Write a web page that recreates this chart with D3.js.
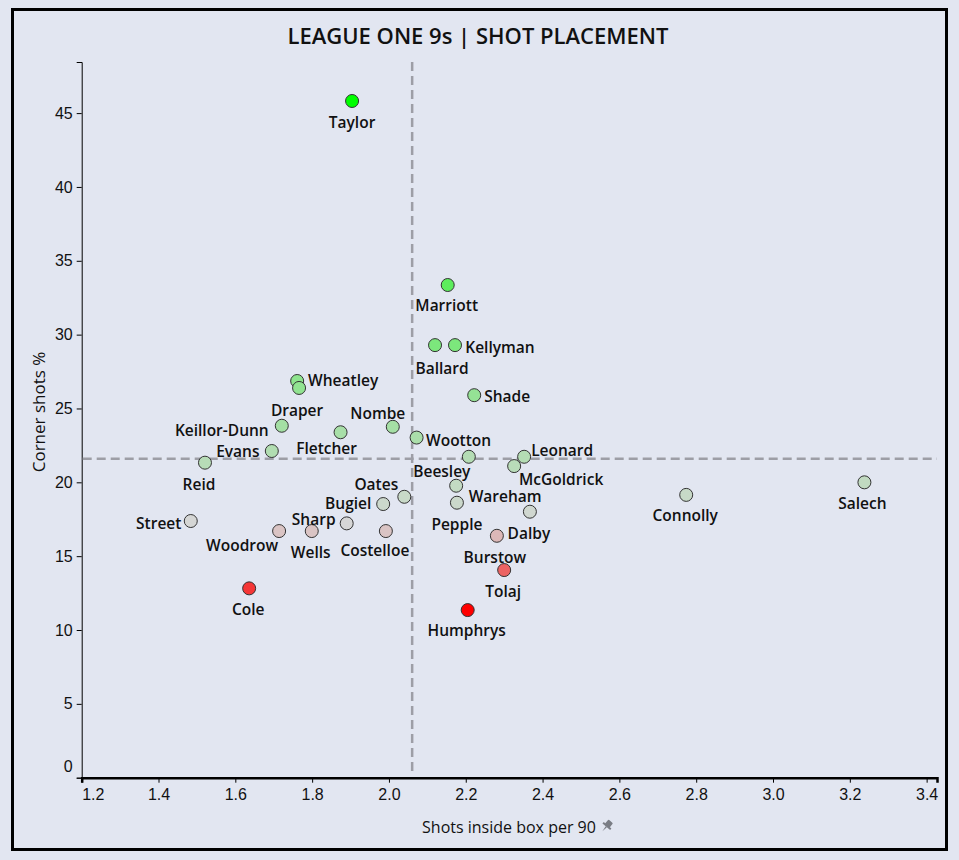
<!DOCTYPE html>
<html>
<head>
<meta charset="utf-8">
<style>
  body { margin: 0; background: #e2e6f1; }
  svg { display: block; font-family: "Open Sans", "Noto Sans", sans-serif; }
  .pt-label { font-size: 15.5px; font-weight: 600; fill: #111; text-anchor: middle; dominant-baseline: central; }
  .ref { stroke: #9d9ea6; stroke-width: 2.5; stroke-dasharray: 9,5; }
</style>
<script src="https://cdnjs.cloudflare.com/ajax/libs/d3/7.8.5/d3.min.js"></script>
</head>
<body>
<svg width="959" height="860"></svg>
<script>
// data
var players = ["Taylor", "Marriott", "Ballard", "Kellyman", "Shade", "Wheatley", "Draper",
  "Keillor-Dunn", "Evans", "Reid", "Fletcher", "Nombe", "Wootton", "Beesley", "Leonard",
  "McGoldrick", "Oates", "Bugiel", "Wareham", "Pepple", "Dalby", "Burstow", "Tolaj",
  "Humphrys", "Street", "Sharp", "Woodrow", "Wells", "Costelloe", "Cole", "Connolly", "Salech"];
var shotsInBox = [1.904, 2.153, 2.120, 2.172, 2.222, 1.761, 1.766,
  1.721, 1.695, 1.521, 1.874, 2.010, 2.072, 2.208, 2.352,
  2.326, 2.040, 1.985, 2.175, 2.177, 2.367, 2.281, 2.300,
  2.205, 1.484, 1.890, 1.714, 1.799, 1.992, 1.636, 2.774, 3.238];
var cornerPct = [45.82, 33.36, 29.29, 29.29, 25.90, 26.86, 26.39,
  23.83, 22.12, 21.33, 23.39, 23.76, 23.03, 21.73, 21.73,
  21.10, 19.02, 18.53, 19.77, 18.62, 18.01, 16.38, 14.06,
  11.35, 17.38, 17.22, 16.70, 16.70, 16.70, 12.82, 19.15, 20.00];
var xTicks = [1.2, 1.4, 1.6, 1.8, 2.0, 2.2, 2.4, 2.6, 2.8, 3.0, 3.2, 3.4];
var yTicks = [0, 5, 10, 15, 20, 25, 30, 35, 40, 45];

// where each name sits relative to its dot (px)
var labelOffsets = {
  "Taylor": [0, 21], "Marriott": [-1, 20], "Ballard": [7, 23], "Kellyman": [45, 2],
  "Shade": [33, 1], "Wheatley": [46, -1], "Draper": [-2, 22], "Keillor-Dunn": [-60, 4],
  "Evans": [-34, 0], "Reid": [-6, 21], "Fletcher": [-14, 16], "Nombe": [-15, -14],
  "Wootton": [42, 2], "Beesley": [-27, 14], "Leonard": [38, -7], "McGoldrick": [47, 13],
  "Oates": [-28, -13], "Bugiel": [-35, -1], "Wareham": [49, 10], "Pepple": [0, 21],
  "Dalby": [-1, 21], "Burstow": [-2, 21], "Tolaj": [-1, 21], "Humphrys": [-1, 20],
  "Street": [-32, 2], "Sharp": [-33, -4], "Woodrow": [-37, 14], "Wells": [-1, 21],
  "Costelloe": [-11, 19], "Cole": [-1, 21], "Connolly": [-1, 20], "Salech": [-2, 21]
};

var data = players.map(function (p, i) {
  return { name: p, x: shotsInBox[i], y: cornerPct[i] };
});

var svg = d3.select("svg");

svg.append("rect")
  .attr("x", 12.5).attr("y", 9.5)
  .attr("width", 934).attr("height", 840)
  .attr("fill", "#e2e6f1")
  .attr("stroke", "#000").attr("stroke-width", 3);

var x = d3.scaleLinear().domain([1.2, 3.427]).range([81.7, 937]);
var y = d3.scaleLinear().domain([0, 48.46]).range([777.7, 62]);

var yMin = d3.min(cornerPct), yMax = d3.max(cornerPct);
var color = d3.scaleLinear()
  .domain([yMin, 17.2, yMax])
  .range(["#ff0000", "#d6d6d6", "#00ff00"]);

svg.append("text")
  .attr("x", 478).attr("y", 44)
  .attr("text-anchor", "middle")
  .attr("font-size", "22px")
  .attr("font-weight", 600)
  .attr("fill", "#111")
  .text("LEAGUE ONE 9s | SHOT PLACEMENT");

// y axis
var gy = svg.append("g")
  .attr("transform", "translate(" + x.range()[0] + ",0)")
  .call(d3.axisLeft(y).tickValues(yTicks).tickFormat(d3.format("d")).tickSizeOuter(0).tickSize(5).tickPadding(4));
gy.select(".domain").attr("stroke", "#000").attr("stroke-width", 1);
gy.selectAll(".tick line").attr("stroke", "#000");
gy.selectAll(".tick text").attr("font-size", "16px").attr("fill", "#111");
gy.selectAll(".tick text").filter(function (d) { return d === 0; }).attr("dy", "-0.4em");

// x axis
var gx = svg.append("g")
  .attr("transform", "translate(0," + y.range()[0] + ")")
  .call(d3.axisBottom(x).tickValues(xTicks).tickFormat(d3.format(".1f")).tickSizeOuter(0).tickSize(5).tickPadding(6));
gx.select(".domain").attr("stroke", "#000").attr("stroke-width", 2.5);
gx.selectAll(".tick line").attr("stroke", "#000");
gx.selectAll(".tick text").attr("font-size", "16px").attr("fill", "#111");
gx.selectAll(".tick text").filter(function (d) { return d === 1.2; }).attr("text-anchor", "start");

// axis titles
svg.append("text")
  .attr("transform", "translate(38," + 412 + ") rotate(-90)")
  .attr("text-anchor", "middle")
  .attr("dominant-baseline", "central")
  .attr("font-size", "17px")
  .attr("fill", "#111")
  .text("Corner shots %");

var xl = svg.append("text")
  .attr("x", 509).attr("y", 827)
  .attr("text-anchor", "middle")
  .attr("dominant-baseline", "central")
  .attr("font-size", "16px")
  .attr("fill", "#111")
  .text("Shots inside box per 90");

// little pin after the axis title
var pinX = 509 + xl.node().getComputedTextLength() / 2 + 11;
var pin = svg.append("g")
  .attr("transform", "translate(" + pinX + ",826) rotate(40)")
  .attr("fill", "#7a7d85");
pin.append("rect").attr("x", -3).attr("y", -6).attr("width", 6).attr("height", 6).attr("rx", 1);
pin.append("rect").attr("x", -5).attr("y", -1).attr("width", 10).attr("height", 2);
pin.append("path").attr("d", "M-0.8,1 L0.8,1 L0,7 Z");

// mean reference lines
var xMean = d3.mean(shotsInBox), yMean = d3.mean(cornerPct);
svg.append("line").attr("class", "ref")
  .attr("x1", x(xMean)).attr("x2", x(xMean))
  .attr("y1", y.range()[1]).attr("y2", y.range()[0] - 2);
svg.append("line").attr("class", "ref")
  .attr("x1", x.range()[0] + 1).attr("x2", x.range()[1])
  .attr("y1", y(yMean)).attr("y2", y(yMean));

// dots
svg.append("g").selectAll("circle")
  .data(data)
  .enter().append("circle")
  .attr("cx", function (d) { return x(d.x); })
  .attr("cy", function (d) { return y(d.y); })
  .attr("r", 6.5)
  .attr("fill", function (d) { return color(d.y); })
  .attr("stroke", "#333")
  .attr("stroke-width", 1);

// names
svg.append("g").selectAll("text")
  .data(data)
  .enter().append("text")
  .attr("class", "pt-label")
  .attr("x", function (d) { return x(d.x) + labelOffsets[d.name][0]; })
  .attr("y", function (d) { return y(d.y) + labelOffsets[d.name][1]; })
  .text(function (d) { return d.name; });
</script>
</body>
</html>
